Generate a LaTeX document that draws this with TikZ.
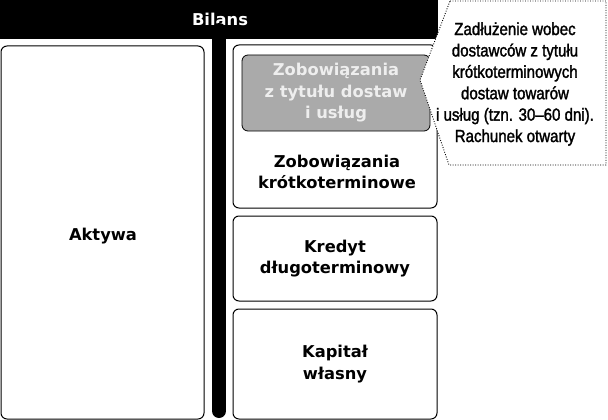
\documentclass[tikz,border=0pt]{standalone}
\usepackage{fontspec}
\setsansfont{DejaVu Sans}
\newfontfamily\condfont[FakeStretch=0.86,FakeBold=1.6]{Liberation Sans}
\definecolor{boxgrey}{HTML}{AAAAAA}
\definecolor{paletext}{HTML}{EEEEEE}
\begin{document}
\begin{tikzpicture}[x=1pt,y=-1pt,
  box/.style={draw=black, line width=1pt, rounded corners=6pt, inner sep=0pt},
  lbl/.style={font=\sffamily\bfseries\fontsize{16.3}{21.5}\selectfont, align=center, text=black},
  callout/.style={fill=white, draw=black, line width=0.9pt, dash pattern=on 0.9pt off 1.6pt},
  calltext/.style={font=\condfont\fontsize{17.5}{21.4}\selectfont, align=center, text=black}
]
\useasboundingbox (0,0) rectangle (608,420);
% header bar
\fill[black] (0,0) rectangle (438,39);
\node[lbl, text=white] (bilans) at (220,19) {Bilans};
% vertical divider
\coordinate (divtop) at (219,30);
\coordinate (divbot) at (219,411);
\draw[line width=14pt, line cap=round] (divtop) -- (divbot);
% left box
\node[box, minimum width=203pt, minimum height=373pt] (aktywa) at (102.5,232.5) {};
\node[lbl] (aktext) at (103,236) {Aktywa};
% right boxes
\node[box, minimum width=204pt, minimum height=163pt] (kz) at (335,126.5) {};
\node[lbl] (kztext) at (337,172) {Zobowiązania\\krótkoterminowe};
\node[box, lbl, minimum width=204pt, minimum height=85pt] (kd) at (335,258.5) {Kredyt\\długoterminowy};
\node[box, lbl, minimum width=204pt, minimum height=110pt] (kw) at (335,364) {Kapitał\\własny};
% grey box
\node[draw=black, line width=0.8pt, fill=boxgrey, rounded corners=6pt, minimum width=188pt, minimum height=76pt, lbl, text=paletext] (zd) at (336,93) {Zobowiązania\\z tytułu dostaw\\i usług};
% callout
\draw[callout] (450,1) -- (606,1) -- (606,165) -- (449,165) -- (420,80) -- cycle;
\node[calltext] (note) at (515,84) {Zadłużenie wobec\\dostawców z tytułu\\krótkoterminowych\\dostaw towarów\\i usług (tzn. 30–60 dni).\\Rachunek otwarty};
\end{tikzpicture}
\end{document}
